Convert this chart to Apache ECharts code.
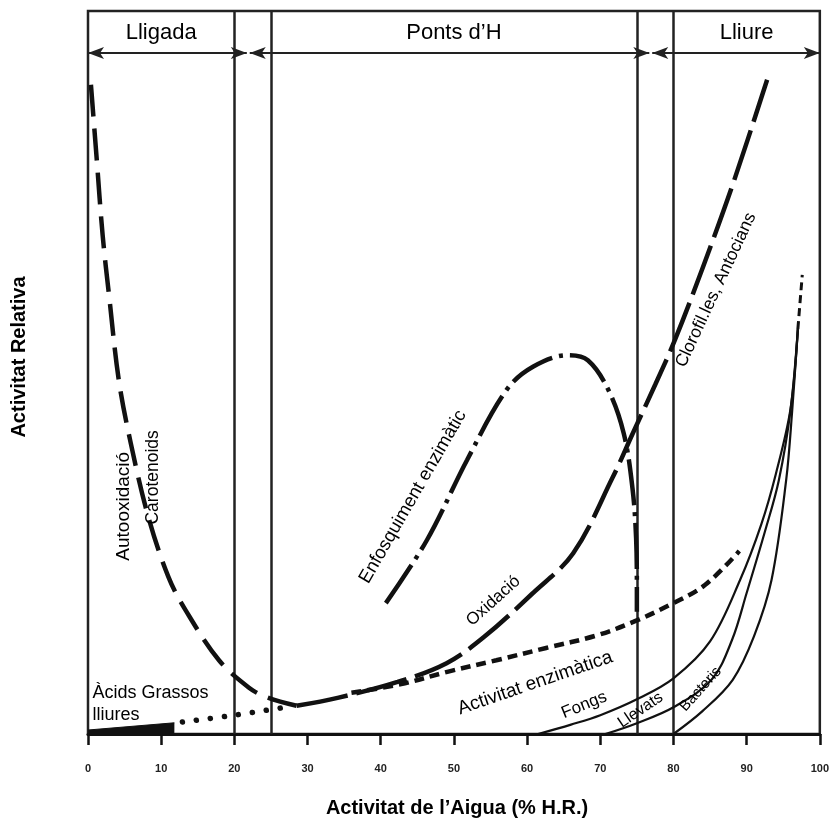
<!DOCTYPE html>
<html>
<head>
<meta charset="utf-8">
<script src="https://cdn.jsdelivr.net/npm/echarts@6/dist/echarts.min.js"></script>
<style>
  html, body { margin: 0; padding: 0; background: #fff; }
  #chart { width: 832px; height: 839px; }
</style>
</head>
<body>
<div id="chart"></div>
<script>
// Water activity (% R.H.) on x, relative reaction rate on y (0-100, unlabelled)
const xTicks = [0, 10, 20, 30, 40, 50, 60, 70, 80, 90, 100];
const zoneBounds = [20, 25, 75, 80];

// Autooxidació / Carotenoids: falls steeply from the dry end
const autooxidacio = [[0.4, 89.8], [1.2, 79.4], [2.0, 69.0], [2.95, 60.0], [4.2, 49.0], [5.85, 40.2],
  [8.25, 30.0], [11.0, 21.7], [13.35, 17.1], [17.9, 10.2], [22.0, 6.4], [24.4, 5.1], [28.5, 3.9]];
// Oxidació rising into Clorofil·les, Antocians
const oxidacio = [[28.5, 3.9], [34.1, 5.0], [42.3, 7.2], [49.0, 9.8], [54.1, 13.4], [60.8, 19.5],
  [66.3, 25.0], [71.7, 35.5], [74.4, 41.5], [77.5, 48.3], [80.2, 54.5], [84.0, 64.5], [88.3, 76.6], [92.8, 90.5]];
// Enfosquiment enzimàtic
const enfosquiment = [[40.7, 18.1], [46.3, 26.8], [51.8, 37.9], [57.2, 47.6], [60.8, 50.8], [65.6, 52.4],
  [68.3, 51.7], [71.1, 47.6], [73.2, 41.6], [74.4, 34.0], [74.9, 27.0], [75.0, 20.0], [75.0, 16.9]];
// Activitat enzimàtica
const enzimatica = [[36.0, 5.7], [42.8, 6.9], [49.1, 8.6], [55.8, 10.2], [62.6, 11.9], [69.4, 13.6],
  [74.5, 15.5], [79.8, 18.0], [84.3, 20.6], [89.0, 25.3]];
// Àcids grassos lliures: solid wedge then dotted continuation
const acidsSolid = [[0, 0.55], [11.8, 1.55]];
const acidsDotted = [[12.9, 1.66], [20.0, 2.6], [27.0, 3.7]];
// Microbial growth
const fongs = [[61.5, 0], [66.0, 1.3], [70.0, 2.6], [75.0, 4.8], [80.0, 7.7], [85.0, 12.8], [89.1, 21.3],
  [92.0, 29.0], [94.0, 36.0], [96.0, 45.0], [97.0, 56.0]];
const llevats = [[70.7, 0], [75.0, 1.5], [80.0, 3.7], [85.2, 7.5], [88.0, 13.0], [90.0, 19.5], [92.5, 28.0],
  [94.4, 35.1], [96.0, 44.8], [97.0, 56.0]];
const bacteris = [[80.0, 0], [84.0, 3.2], [88.1, 7.5], [91.0, 13.5], [93.4, 21.3], [95.4, 35.1], [96.2, 44.4], [97.0, 56.0]];
const microTip = [[97.0, 56.0], [97.6, 63.5]];

// Region header (Lligada / Ponts d'H / Lliure) arrow level
const headerLevel = 94.2;

// Text annotations placed in data space
const annotations = [
  { text: 'Lligada', x: 10, y: 97.0, rot: 0, size: 22 },
  { text: 'Ponts d’H', x: 50, y: 97.0, rot: 0, size: 22 },
  { text: 'Lliure', x: 90, y: 97.0, rot: 0, size: 22 },
  { text: 'Autooxidació', x: 4.9, y: 31.5, rot: 90, size: 19 },
  { text: 'Carotenoids', x: 8.9, y: 35.5, rot: 90, size: 17.5 },
  { text: 'Enfosquiment enzimàtic', x: 44.4, y: 32.8, rot: 60, size: 18.5 },
  { text: 'Oxidació', x: 55.4, y: 18.4, rot: 42, size: 17 },
  { text: 'Clorofil.les, Antocians', x: 85.8, y: 61.4, rot: 65, size: 17.5 },
  { text: 'Activitat enzimàtica', x: 61.1, y: 7.05, rot: 19, size: 19 },
  { text: 'Fongs', x: 67.8, y: 4.0, rot: 22, size: 17 },
  { text: 'Llevats', x: 75.5, y: 3.3, rot: 34, size: 16 },
  { text: 'Bacteris', x: 83.7, y: 6.2, rot: 48, size: 15 },
  { text: 'Àcids Grassos\nlliures', x: 0.6, y: 4.1, rot: 0, size: 18, align: 'left' }
];

const FONT = '"Liberation Sans", Arial, Helvetica, sans-serif';
const INK = '#111';

function curve(name, data, dash, width, extra) {
  return Object.assign({
    name: name, type: 'line', data: data, smooth: 0.35, symbol: 'none',
    lineStyle: { color: INK, width: width, type: dash, cap: 'butt' },
    z: 5
  }, extra || {});
}

const chart = echarts.init(document.getElementById('chart'), null, { renderer: 'canvas' });

const headerSegments = [
  [{ coord: [0, headerLevel], symbol: 'arrow' }, { coord: [20, headerLevel], symbol: 'none' }],
  [{ coord: [20, headerLevel], symbol: 'none' }, { coord: [21.7, headerLevel], symbol: 'arrow' }],
  [{ coord: [25, headerLevel], symbol: 'none' }, { coord: [22.1, headerLevel], symbol: 'arrow' }],
  [{ coord: [25, headerLevel], symbol: 'none' }, { coord: [75, headerLevel], symbol: 'none' }],
  [{ coord: [75, headerLevel], symbol: 'none' }, { coord: [76.7, headerLevel], symbol: 'arrow' }],
  [{ coord: [80, headerLevel], symbol: 'none' }, { coord: [77.1, headerLevel], symbol: 'arrow' }],
  [{ coord: [80, headerLevel], symbol: 'none' }, { coord: [100, headerLevel], symbol: 'arrow' }]
];

chart.setOption({
  animation: false,
  backgroundColor: '#fff',
  grid: { left: 88, right: 5, top: 11, bottom: 105, show: true, borderColor: '#222', borderWidth: 2.5, containLabel: false },
  xAxis: {
    type: 'value', min: 0, max: 100, interval: 10,
    axisLine: { show: true, lineStyle: { color: INK, width: 3 } },
    axisTick: { show: true, inside: false, length: 11, lineStyle: { color: INK, width: 2.5 } },
    axisLabel: { show: true, margin: 29, fontSize: 11, fontWeight: 'bold', color: '#222', fontFamily: FONT,
      formatter: function (v) { return xTicks.indexOf(v) >= 0 ? String(v) : ''; } },
    splitLine: { show: false }
  },
  yAxis: {
    type: 'value', min: 0, max: 100,
    axisLine: { show: false }, axisTick: { show: false }, axisLabel: { show: false }, splitLine: { show: false }
  },
  graphic: [
    { type: 'text', x: 457, y: 808, z: 10,
      style: { text: 'Activitat de l’Aigua (% H.R.)', font: 'bold 20px ' + FONT, fill: '#000', align: 'center', verticalAlign: 'middle' } },
    { type: 'text', x: 19, y: 357, rotation: Math.PI / 2, z: 10,
      style: { text: 'Activitat Relativa', font: 'bold 20px ' + FONT, fill: '#000', align: 'center', verticalAlign: 'middle' } }
  ],
  series: [
    {
      name: 'zones', type: 'line', data: [], symbol: 'none',
      markLine: {
        silent: true, symbol: 'none', animation: false,
        label: { show: false },
        lineStyle: { color: '#222', width: 2.5, type: 'solid' },
        data: zoneBounds.map(function (b) { return { xAxis: b }; })
      }
    },
    {
      name: 'header', type: 'line', data: [], symbol: 'none',
      markLine: {
        silent: true, animation: false, symbolSize: [9, 16],
        label: { show: false },
        lineStyle: { color: '#222', width: 2, type: 'solid' },
        data: headerSegments
      }
    },
    curve('Autooxidació', autooxidacio, [32, 12], 4.5),
    curve('Oxidació', oxidacio, [52, 9], 4.5),
    curve('Enfosquiment enzimàtic', enfosquiment, [46, 7, 4, 7], 4.5),
    curve('Activitat enzimàtica', enzimatica, [10, 6], 4.5),
    curve('Àcids grassos', acidsSolid, 'solid', 1, { smooth: false, areaStyle: { color: INK, opacity: 1 } }),
    curve('Àcids grassos (punts)', acidsDotted, [0.1, 14], 5.5, {
      lineStyle: { color: INK, width: 5.5, type: [0.1, 14], cap: 'round' } }),
    curve('Fongs', fongs, 'solid', 2.2),
    curve('Llevats', llevats, 'solid', 2.2),
    curve('Bacteris', bacteris, 'solid', 2.2),
    curve('Creixement', microTip, [8, 5], 3, { smooth: false }),
    {
      name: 'annotations', type: 'custom', z: 8, silent: true,
      data: annotations.map(function (a, i) { return [a.x, a.y, i]; }),
      renderItem: function (params, api) {
        const a = annotations[api.value(2)];
        const p = api.coord([api.value(0), api.value(1)]);
        return {
          type: 'text', x: p[0], y: p[1], rotation: a.rot * Math.PI / 180,
          style: {
            text: a.text, font: a.size + 'px ' + FONT, fill: '#000',
            align: a.align || 'center', verticalAlign: 'middle', lineHeight: 22
          }
        };
      }
    }
  ]
});
</script>
</body>
</html>
